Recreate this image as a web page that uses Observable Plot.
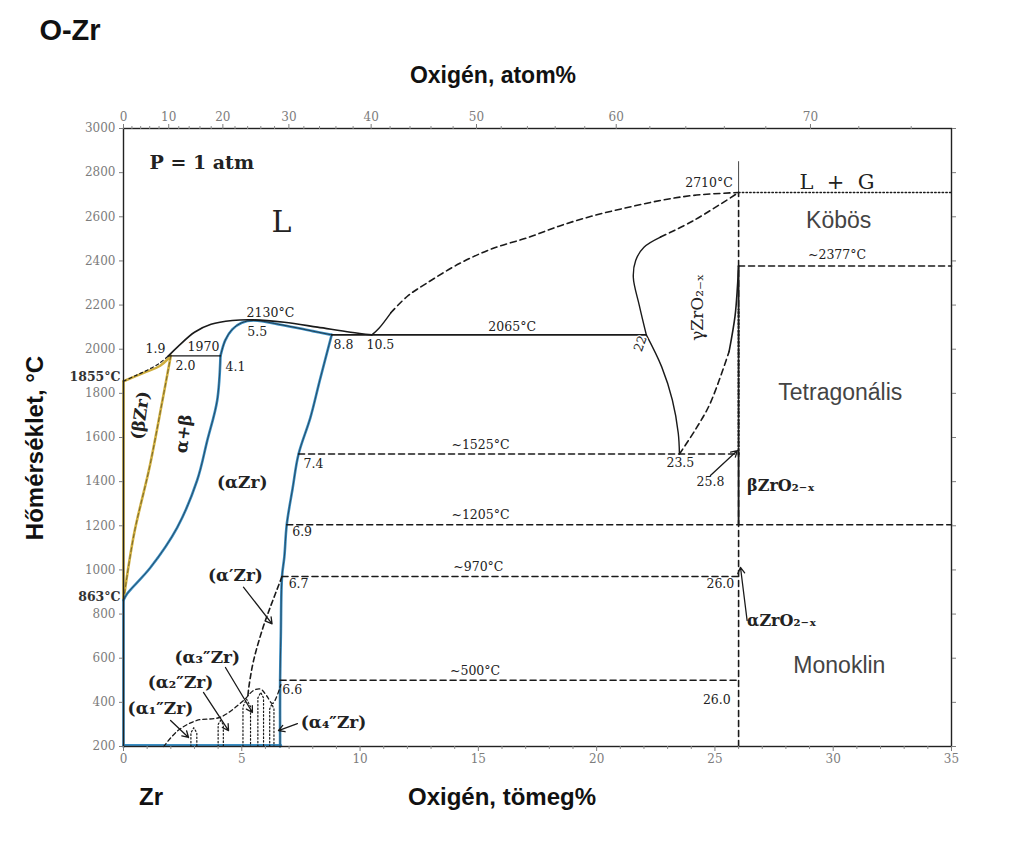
<!DOCTYPE html>
<html><head><meta charset="utf-8">
<script src="https://cdn.jsdelivr.net/npm/d3@7"></script>
<script src="https://cdn.jsdelivr.net/npm/@observablehq/plot@0.6"></script>
<style>
body{margin:0;background:#fff;}
#wrap{position:relative;width:1014px;height:843px;overflow:hidden;background:#fff;}
#chart{position:absolute;left:0;top:0;}
.lbl{position:absolute;font-family:"Liberation Sans",Arial,sans-serif;font-weight:bold;color:#111;white-space:nowrap;transform:translate(-50%,-50%);}
</style></head><body>
<div id="wrap">
<div id="chart"></div>
<div class="lbl" style="left:70px;top:30px;font-size:29px">O-Zr</div>
<div class="lbl" style="left:493px;top:75px;font-size:23px">Oxigén, atom%</div>
<div class="lbl" style="left:502px;top:797px;font-size:24px">Oxigén, tömeg%</div>
<div class="lbl" style="left:151px;top:797px;font-size:24px">Zr</div>
<div class="lbl" style="left:35px;top:448px;font-size:24px;transform:translate(-50%,-50%) rotate(-90deg)">Hőmérséklet, °C</div>
</div>
<script>
// ---------- axis ticks ----------
const wtTicks = [0, 5, 10, 15, 20, 25, 30, 35];
const wtMinor = [1,2,3,4,6,7,8,9,11,12,13,14,16,17,18,19,21,22,23,24,26,27,28,29,31,32,33,34];
const tempTicks = [200,400,600,800,1000,1200,1400,1600,1800,2000,2200,2400,2600,2800,3000];
const atTicks = [0, 10, 20, 30, 40, 50, 60, 70];
const atMinor = [2,4,6,8,12,14,16,18,22,24,26,28,32,34,36,38,42,44,46,48,52,54,56,58,62,64,66,68,72,74];
// atom% -> weight% (O in Zr)
const at2wt = a => 100 * a * 15.999 / (a * 15.999 + (100 - a) * 91.224);

// ---------- phase boundaries (wt% O, °C) ----------
const liquidusLow = [[0,1855],[0.5,1880],[1.0,1905],[1.5,1935],[1.9,1970]];
const liquidusDome = [[1.9,1970],[2.3,2012],[3.0,2077],[3.7,2113],[4.6,2130],[5.5,2133],[6.8,2122],[8.2,2100],[9.6,2077],[10.5,2065]];
const betaSolidus = [[0,1855],[0.85,1893],[1.55,1925],[2.0,1970]];
const betaSolvus = [[0,863],[0.45,1165],[1.1,1465],[1.65,1770],[2.0,1970]];
const betaLeft = [[0,863],[0,1855]];
const alphaLeft = [[0,200],[0,863]];
const alphaBottom = [[0,205],[6.65,205]];
const alphaSolvusLeft = [[0,863],[0.16,893],[1.14,1011],[2.27,1192],[3.11,1405],[3.54,1586],[3.96,1768],[4.1,1970]];
const alphaSolidus = [[4.1,1970],[4.3,2040],[4.6,2090],[5.0,2120],[5.5,2130],[6.7,2110],[8.0,2082],[8.8,2065]];
const alphaSolvusRight = [[8.8,2065],[8.3,1860],[7.9,1690],[7.4,1525],[7.15,1370],[6.9,1205],[6.8,1060],[6.7,970],[6.65,700],[6.62,500],[6.62,200]];
const peritectic1970 = [[1.9,1970],[4.1,1970]];
const eutectic2065 = [[8.8,2065],[22.1,2065]];
const liquidusOxSolid = [[10.5,2065],[10.8,2095],[11.3,2165]];
const liquidusOxDashed = [[11.3,2165],[12.0,2240],[12.8,2298],[14.2,2388],[15.6,2456],[17.1,2506],[18.5,2561],[19.9,2606],[21.3,2642],[22.7,2674],[24.1,2697],[26,2710]];
const gammaUpperSolid = [[22.1,2065],[21.8,2200],[21.55,2326],[21.65,2402],[22.0,2462],[22.7,2508]];
const gammaUpperDashed = [[22.7,2508],[24.1,2583],[26,2710]];
const gammaLower = [[22.1,2065],[22.75,1920],[23.2,1770],[23.45,1620],[23.5,1525]];
const gammaRightDashed = [[23.5,1525],[24.2,1640],[24.8,1755],[25.6,1990]];
const gammaRightSolid = [[25.6,1990],[25.85,2150],[25.95,2280],[26,2377]];
const oxideLine = [[26,200],[26,2710]];
const oxideTop = [[26,2710],[26,2850]];
const oxideSolid1 = [[26,2180],[26,2377]];
const oxideDotted = [[26,1525],[26,2180]];
const oxideSolid2 = [[26,1205],[26,1525]];
const iso1525 = [[7.4,1525],[26,1525]];
const iso1205 = [[6.9,1205],[35,1205]];
const iso970 = [[6.7,970],[26,970]];
const iso500 = [[6.62,500],[26,500]];
const iso2377 = [[26,2377],[35,2377]];
const iso2710 = [[26,2710],[35,2710]];
const alphaPrime = [[6.7,970],[6.2,830],[5.9,740],[5.5,590],[5.3,470],[5.25,420]];
const alphaDoubleEnvelope = [[1.7,200],[2.3,272],[3.1,318],[4.1,333],[5.07,408],[5.5,454],[5.8,460],[6.05,430],[6.3,395],[6.65,480]];
const dome1 = [[2.85,200],[2.85,262],[2.97,285],[3.1,262],[3.1,200]];
const dome2 = [[4.0,200],[4.0,300],[4.1,318],[4.22,300],[4.22,200]];
const dome3 = [[5.05,200],[5.05,380],[5.2,415],[5.37,380],[5.37,200]];
const dome4 = [[5.68,200],[5.68,420],[5.8,445],[5.92,420],[5.92,200]];
const dome5 = [[6.18,200],[6.18,370],[6.27,392],[6.36,370],[6.36,200]];

// ---------- annotations ----------
const numLabels = [
  {x:6.21,y:2166,t:"2130°C"},{x:5.65,y:2077,t:"5.5"},{x:1.35,y:2002,t:"1.9"},
  {x:3.38,y:2009,t:"1970"},{x:2.62,y:1926,t:"2.0"},{x:4.73,y:1919,t:"4.1"},
  {x:9.3,y:2017,t:"8.8"},{x:10.86,y:2017,t:"10.5"},{x:16.43,y:2100,t:"2065°C"},
  {x:24.75,y:2752,t:"2710°C"},{x:30.16,y:2425,t:"~2377°C"},{x:23.54,y:1486,t:"23.5"},
  {x:24.81,y:1397,t:"25.8"},{x:25.23,y:937,t:"26.0"},{x:25.08,y:410,t:"26.0"},
  {x:15.09,y:1566,t:"~1525°C"},{x:15.09,y:1250,t:"~1205°C"},{x:15.0,y:1012,t:"~970°C"},
  {x:14.86,y:540,t:"~500°C"},{x:8.03,y:1481,t:"7.4"},{x:7.55,y:1171,t:"6.9"},
  {x:7.4,y:937,t:"6.7"},{x:7.13,y:458,t:"6.6"}
];
const edgeLabels = [{x:0,y:1872,t:"1855°C"},{x:0,y:878,t:"863°C"}];
const phaseLabels = [
  {x:5.02,y:1398,t:"(αZr)"},{x:4.73,y:975,t:"(α′Zr)"},{x:3.54,y:605,t:"(α₃″Zr)"},
  {x:2.41,y:491,t:"(α₂″Zr)"},{x:1.56,y:371,t:"(α₁″Zr)"},{x:8.88,y:310,t:"(α₄″Zr)"}
];
const oxideLabels = [{x:26.36,y:1383,t:"βZrO₂₋ₓ"},{x:26.36,y:771,t:"αZrO₂₋ₓ"}];
const rotLabels = [{x:0.72,y:1700,t:"(βZr)"},{x:2.55,y:1617,t:"α+β"}];
const gammaLabel = [{x:24.25,y:2190,t:"γZrO₂₋ₓ"}];
const regionLabels = [{x:30.23,y:2583,t:"Köbös"},{x:30.3,y:1805,t:"Tetragonális"},{x:30.26,y:565,t:"Monoklin"}];
const arrows = [
  {x1:5.07,y1:922,x2:6.28,y2:756},{x1:4.31,y1:558,x2:5.45,y2:354},
  {x1:3.38,y1:445,x2:4.44,y2:272},{x1:1.99,y1:318,x2:2.75,y2:241},
  {x1:7.35,y1:304,x2:6.55,y2:272},{x1:24.81,y1:1428,x2:25.95,y2:1541},
  {x1:26.36,y1:771,x2:26.08,y2:1012}
];

const X = d => d[0], Y = d => d[1];
const YEL = "#cfae3e", BLU = "#3a8ec4", INK = "#1a1a1a";
const solid = (arr, o={}) => Plot.line(arr, {x:X, y:Y, stroke:INK, strokeWidth:1.4, curve:"catmull-rom", ...o});
const dashed = (arr, o={}) => solid(arr, {strokeDasharray:"6,4", strokeWidth:1.6, ...o});
const dotted = (arr, o={}) => solid(arr, {strokeDasharray:"1.5,2.2", strokeWidth:1.2, ...o});
const SERIF = "'DejaVu Serif', 'Liberation Serif', serif";

const chart = Plot.plot({
  width: 1014, height: 843,
  marginLeft: 123, marginRight: 63, marginTop: 128, marginBottom: 97,
  x: {domain: [0, 35]},
  y: {domain: [200, 3000]},
  style: {fontFamily: SERIF, background: "transparent"},
  marks: [
    // colored highlights
    Plot.line(betaLeft, {x:X, y:Y, stroke:YEL, strokeWidth:2.6}),
    Plot.line(betaSolvus, {x:X, y:Y, stroke:YEL, strokeWidth:2.6, curve:"catmull-rom"}),
    Plot.line(betaSolidus, {x:X, y:Y, stroke:YEL, strokeWidth:2.6, curve:"catmull-rom"}),
    Plot.line(alphaLeft, {x:X, y:Y, stroke:BLU, strokeWidth:2.6}),
    Plot.line(alphaBottom, {x:X, y:Y, stroke:BLU, strokeWidth:2.6}),
    Plot.line(alphaSolvusLeft, {x:X, y:Y, stroke:BLU, strokeWidth:2.6, curve:"catmull-rom"}),
    Plot.line(alphaSolidus, {x:X, y:Y, stroke:BLU, strokeWidth:2.6, curve:"catmull-rom"}),
    Plot.line(alphaSolvusRight, {x:X, y:Y, stroke:BLU, strokeWidth:2.6, curve:"catmull-rom"}),
    // black lines
    solid(alphaSolvusLeft, {strokeWidth:0.8, strokeOpacity:0.7}),
    solid(alphaSolvusRight, {strokeWidth:0.8, strokeOpacity:0.7}),
    dashed(betaSolvus, {strokeWidth:0.8, strokeDasharray:"4,3", strokeOpacity:0.6}),
    dashed(liquidusLow, {strokeWidth:1.2, strokeDasharray:"3,3"}),
    solid(liquidusDome, {strokeWidth:1.6}),
    solid(alphaSolidus, {strokeWidth:0.9, strokeOpacity:0.8}),
    solid(peritectic1970),
    solid(eutectic2065, {strokeWidth:1.6}),
    solid(liquidusOxSolid),
    dashed(liquidusOxDashed),
    solid(gammaUpperSolid),
    dashed(gammaUpperDashed),
    solid(gammaLower),
    dashed(gammaRightDashed),
    solid(gammaRightSolid, {strokeWidth:1.6}),
    dashed(oxideLine, {curve:"linear"}),
    solid(oxideTop, {strokeWidth:0.8, curve:"linear"}),
    solid(oxideSolid1, {strokeWidth:1.8, curve:"linear"}),
    dotted(oxideDotted, {strokeWidth:2.2, curve:"linear"}),
    solid(oxideSolid2, {strokeWidth:1.8, curve:"linear"}),
    dashed(iso1525, {curve:"linear"}),
    dashed(iso1205, {curve:"linear"}),
    dashed(iso970, {curve:"linear"}),
    dashed(iso500, {curve:"linear"}),
    dashed(iso2377, {curve:"linear"}),
    dotted(iso2710, {curve:"linear", strokeWidth:1.4}),
    dashed(alphaPrime, {strokeDasharray:"5,3.5"}),
    dashed(alphaDoubleEnvelope, {strokeDasharray:"4,3", strokeWidth:1.3}),
    dotted(dome1, {curve:"linear"}), dotted(dome2, {curve:"linear"}), dotted(dome3, {curve:"linear"}),
    dotted(dome4, {curve:"linear"}), dotted(dome5, {curve:"linear"}),
    Plot.arrow(arrows, {x1:"x1", y1:"y1", x2:"x2", y2:"y2", stroke:INK, strokeWidth:1.3, headLength:8}),
    // frame and axes
    Plot.frame({stroke:"#222", strokeWidth:1.4}),
    Plot.axisY(tempTicks, {anchor:"left", tickSize:4, tickFormat:d=>String(d), color:"#7c7c7c", fontSize:12, label:null, tickPadding:4}),
    Plot.axisY(tempTicks, {anchor:"right", tickSize:4, tickFormat:()=>"", color:"#7c7c7c", label:null}),
    Plot.axisX(wtTicks, {anchor:"bottom", tickSize:5, tickFormat:d=>String(d), color:"#7c7c7c", fontSize:12, label:null, tickPadding:3}),
    Plot.axisX(wtMinor, {anchor:"bottom", tickSize:3, tickFormat:()=>"", color:"#8c8c8c", label:null}),
    Plot.axisX(atTicks.map(at2wt), {anchor:"top", tickSize:5, tickFormat:(d,i)=>String(atTicks[i]), color:"#7c7c7c", fontSize:12, label:null, tickPadding:3}),
    Plot.axisX(atMinor.map(at2wt), {anchor:"top", tickSize:3, tickFormat:()=>"", color:"#8c8c8c", label:null}),
    // texts
    Plot.text(["P = 1 atm"], {x:1.1, y:2842, text:d=>d, textAnchor:"start", fontSize:19, fontWeight:"bold", fill:"#222"}),
    Plot.text(["L"], {x:6.68, y:2574, text:d=>d, fontSize:30, fill:"#222"}),
    Plot.text(["L  +  G"], {x:30.16, y:2757, text:d=>d, fontSize:21, fill:"#222"}),
    Plot.text(numLabels, {x:"x", y:"y", text:"t", fontSize:12.5, fill:"#222"}),
    Plot.text(["22"], {x:21.85, y:2025, text:d=>d, fontSize:12.5, rotate:-70, fill:"#222", stroke:"white", strokeWidth:2}),
    Plot.text(edgeLabels, {x:"x", y:"y", text:"t", fontSize:12.5, fontWeight:"bold", fill:"#333", textAnchor:"end", dx:-3}),
    Plot.text(phaseLabels, {x:"x", y:"y", text:"t", fontSize:17, fontWeight:"bold", fill:"#222"}),
    Plot.text(oxideLabels, {x:"x", y:"y", text:"t", fontSize:16, fontWeight:"bold", fill:"#222", textAnchor:"start"}),
    Plot.text(rotLabels, {x:"x", y:"y", text:"t", fontSize:17, fontWeight:"bold", fill:"#222", rotate:-82}),
    Plot.text(gammaLabel, {x:"x", y:"y", text:"t", fontSize:17, fill:"#222", rotate:-90}),
    Plot.text(regionLabels, {x:"x", y:"y", text:"t", fontSize:23, fill:"#444", fontFamily:"'Liberation Sans', Arial, sans-serif", stroke:"white", strokeWidth:10})
  ]
});
document.getElementById("chart").append(chart);
</script>
</body></html>
